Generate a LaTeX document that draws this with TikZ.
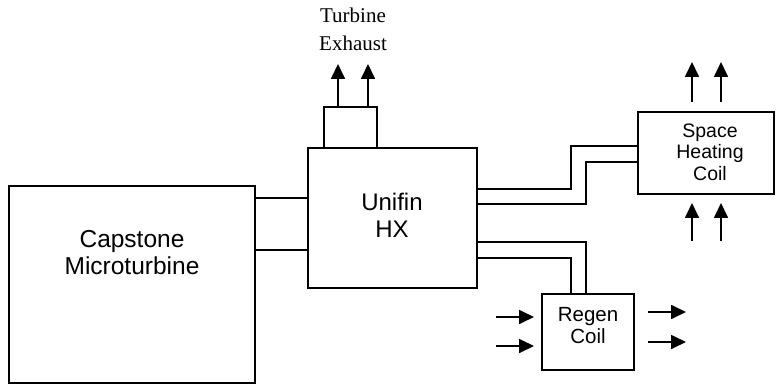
\documentclass[tikz,border=0pt]{standalone}
\usepackage{fontspec}
\setmainfont{Liberation Sans}
\newfontfamily\serifface{Liberation Serif}
\usetikzlibrary{arrows.meta}
\begin{document}
\begin{tikzpicture}[x=1pt,y=-1pt,
  box/.style={draw,line width=1.7pt,rectangle,inner sep=0pt},
  wire/.style={line width=1.7pt},
  flow/.style={line width=1.7pt,-{Triangle[length=15pt,width=14pt]}},
  lbl/.style={align=center,inner sep=0pt}]
\useasboundingbox (0,0) rectangle (776,387);
% boxes
\node[box,minimum width=246pt,minimum height=197pt] (cap) at (132,284.5) {};
\node[box,minimum width=169pt,minimum height=140pt] (unifin) at (392.5,218) {};
\node[box,minimum width=53pt,minimum height=41pt] (exh) at (350.5,127.5) {};
\node[box,minimum width=136pt,minimum height=82pt] (space) at (706,153) {};
\node[box,minimum width=92pt,minimum height=76pt] (regen) at (588,332) {};
% labels
\node[lbl,font=\fontsize{24.5}{27}\selectfont] (capt) at (132,253) {Capstone\\Microturbine};
\node[lbl,font=\fontsize{24}{27}\selectfont] (unit) at (392,215) {Unifin\\HX};
\node[lbl,font=\fontsize{19.5}{21.5}\selectfont] (spacet) at (710,152) {Space\\Heating\\Coil};
\node[lbl,font=\fontsize{20.5}{22}\selectfont] (regent) at (588,326) {Regen\\Coil};
\node[lbl,font=\serifface\fontsize{21}{28}\selectfont] (exht) at (353,29) {Turbine\\Exhaust};
% connectors
\draw[wire] (cap.east |- 0,198) -- (unifin.west |- 0,198);
\draw[wire] (cap.east |- 0,250) -- (unifin.west |- 0,250);
\draw[wire] (unifin.east |- 0,189) -| (571,146) -- (space.west |- 0,146);
\draw[wire] (unifin.east |- 0,204) -| (586,162) -- (space.west |- 0,162);
\draw[wire] (unifin.east |- 0,242) -| (regen.north -| 586,0);
\draw[wire] (unifin.east |- 0,258) -| (regen.north -| 571,0);
% flow arrows
\coordinate (e1) at (338,64);
\coordinate (e2) at (368,64);
\draw[flow] (exh.north -| e1) -- (e1);
\draw[flow] (exh.north -| e2) -- (e2);
\coordinate (s1) at (692,62);
\coordinate (s2) at (721,62);
\draw[flow] (s1 |- 0,102) -- (s1);
\draw[flow] (s2 |- 0,102) -- (s2);
\coordinate (b1) at (692,241);
\coordinate (b2) at (721,241);
\draw[flow] (b1) -- (b1 |- 0,203);
\draw[flow] (b2) -- (b2 |- 0,203);
\coordinate (l1) at (496,317);
\coordinate (l2) at (496,346);
\draw[flow] (l1) -- (l1 -| 534,0);
\draw[flow] (l2) -- (l2 -| 534,0);
\coordinate (r1) at (686,312);
\coordinate (r2) at (686,342);
\draw[flow] (r1 -| 648,0) -- (r1);
\draw[flow] (r2 -| 648,0) -- (r2);
\end{tikzpicture}
\end{document}
